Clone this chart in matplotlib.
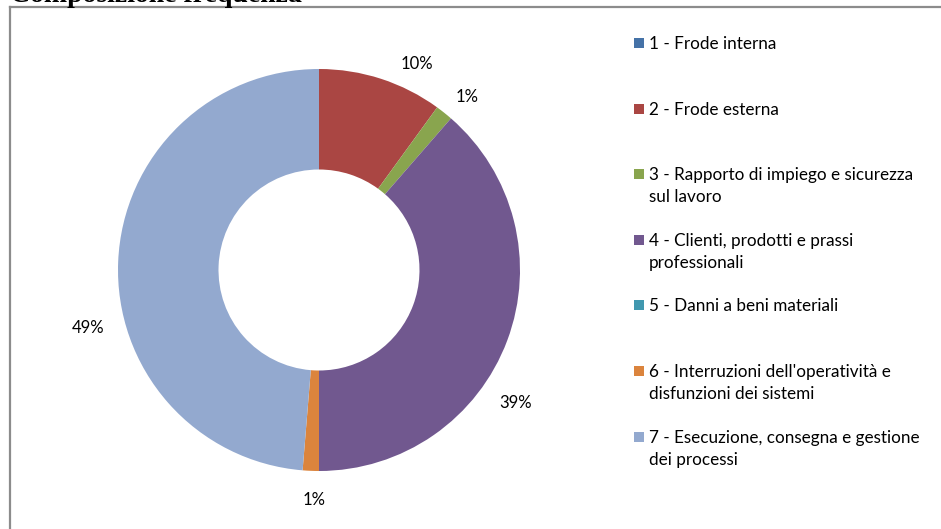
import numpy as np
import matplotlib
matplotlib.use("Agg")
import matplotlib.pyplot as plt
from matplotlib.lines import Line2D
from matplotlib.patches import Rectangle

# ---- data ----
categories = [
    "1 - Frode interna",
    "2 - Frode esterna",
    "3 - Rapporto di impiego e sicurezza\nsul lavoro",
    "4 - Clienti, prodotti e prassi\nprofessionali",
    "5 - Danni a beni materiali",
    "6 - Interruzioni dell'operatività e\ndisfunzioni dei sistemi",
    "7 - Esecuzione, consegna e gestione\ndei processi",
]
values = [0.0, 10.0, 1.4, 38.6, 0.0, 1.3, 48.7]
title = "Composizione frequenza"

# ---- style ----
colors = ["#4572A7", "#AA4643", "#89A54E", "#71588F", "#4198AF", "#DB843D", "#93A9CF"]
# label placement (angle offset in degrees clockwise from wedge mid, radial distance)
label_offsets = [0, 7.5, 2.0, 13.5, 0, -1.0, -16.5]
label_dist = [1.14, 1.135, 1.135, 1.18, 1.14, 1.145, 1.185]

W, H = 941, 529
dpi = 100
fig = plt.figure(figsize=(W / dpi, H / dpi), dpi=dpi)
fig.patch.set_facecolor("white")

# pie axes: centre (319, 270) px from top-left, outer radius 201 px
cx, cy, R = 319, 270, 201
lim = 1.25
side = 2 * lim * R
ax = fig.add_axes([(cx - side / 2) / W, (H - cy - side / 2) / H, side / W, side / H])
ax.set_xlim(-lim, lim)
ax.set_ylim(-lim, lim)
ax.set_aspect("equal")
ax.axis("off")

wedges, _ = ax.pie(values, colors=colors, startangle=90, counterclock=False,
                   radius=1.0, wedgeprops=dict(width=0.5, linewidth=0),
                   normalize=True)

total = sum(values)
cum = 0.0
for v, off, d in zip(values, label_offsets, label_dist):
    if v > 0:
        mid = (cum + v / 2) / total * 360.0 + off  # clockwise from 12 o'clock
        a = np.deg2rad(mid)
        ax.text(d * np.sin(a), d * np.cos(a), f"{v / total * 100:.0f}%",
                ha="center", va="center", fontsize=12, family="Lato", color="#000000")
    cum += v

# legend drawn manually
leg_x_sq = 634
leg_x_txt = 649
leg_y0 = 43
leg_dy = 65.6
for i, (lab, col) in enumerate(zip(categories, colors)):
    yc = leg_y0 + i * leg_dy
    fig.patches.append(Rectangle((leg_x_sq / W, 1 - (yc + 5) / H), 10 / W, 10 / H,
                                 transform=fig.transFigure, facecolor=col, edgecolor="none"))
    fig.text(leg_x_txt / W, 1 - (yc - 7) / H, lab, ha="left", va="top",
             fontsize=12.3, family="Lato", color="#000000", linespacing=1.47)

# chart border (left and top)
bc = "#8c8c8c"
fig.add_artist(Line2D([10 / W, 10 / W], [1 - 7 / H, 0], transform=fig.transFigure,
                      color=bc, linewidth=1.6))
fig.add_artist(Line2D([10 / W, 1.0], [1 - 7 / H, 1 - 7 / H], transform=fig.transFigure,
                      color=bc, linewidth=1.6))

# clipped title
fig.text(10 / W, 1 - 2 / H, title, ha="left", va="baseline", fontsize=20,
         family="Liberation Serif", fontweight="bold", color="#000000")

fig.savefig("out.png", dpi=dpi, facecolor="white")
